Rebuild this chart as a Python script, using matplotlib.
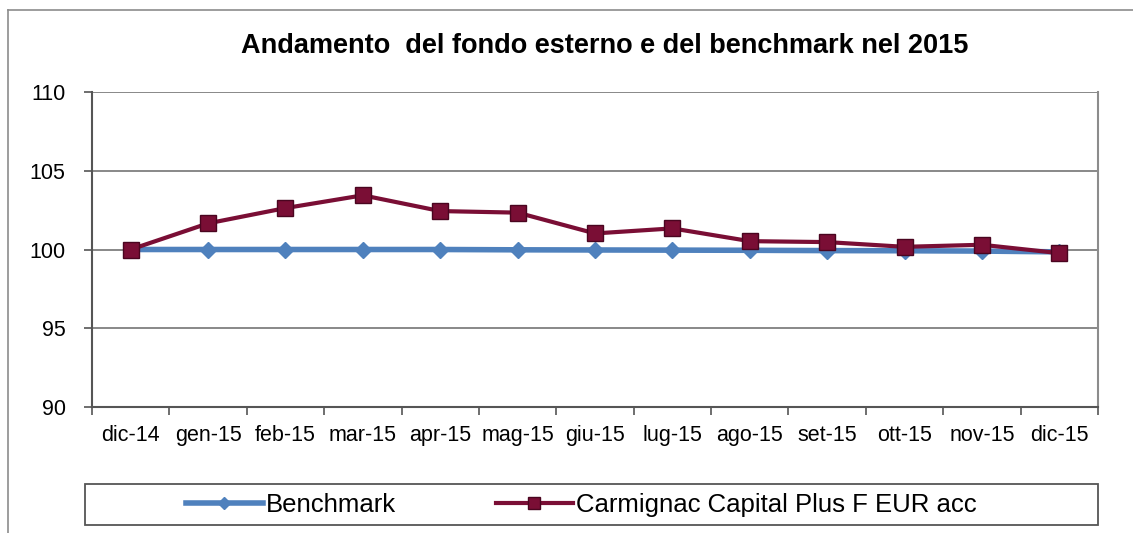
import matplotlib.pyplot as plt
from matplotlib.patches import Rectangle
from matplotlib.lines import Line2D

plt.rcParams['font.family'] = ['Liberation Sans', 'DejaVu Sans']

months = ['dic-14', 'gen-15', 'feb-15', 'mar-15', 'apr-15', 'mag-15', 'giu-15',
          'lug-15', 'ago-15', 'set-15', 'ott-15', 'nov-15', 'dic-15']
benchmark = [100.0, 100.0, 100.0, 100.0, 100.0, 99.98, 99.97, 99.96, 99.95,
             99.93, 99.92, 99.9, 99.85]
carmignac = [100.0, 101.66, 102.63, 103.44, 102.44, 102.34, 101.02, 101.34,
             100.53, 100.47, 100.17, 100.3, 99.77]
title = "Andamento  del fondo esterno e del benchmark nel 2015"

blue = '#4F81BD'
maroon = '#7A0E35'

fig = plt.figure(figsize=(11.33, 5.33), dpi=100)
ax = fig.add_axes([92 / 1133, 1 - 407 / 533, (1098 - 92) / 1133, (407 - 92) / 533])

x = list(range(len(months)))
ax.plot(x, benchmark, color=blue, lw=4, marker='D', ms=8, mfc=blue, mec=blue,
        label='Benchmark', zorder=3)
ax.plot(x, carmignac, color=maroon, lw=3, marker='s', ms=11, mfc=maroon, mec='#4a0520',
        label='Carmignac Capital Plus F EUR acc', zorder=4)

ax.set_xlim(-0.5, len(months) - 0.5)
ax.set_ylim(90, 110)
ax.set_yticks([90, 95, 100, 105, 110])
ax.yaxis.grid(True, color='#7f7f7f', lw=1.3)
ax.set_axisbelow(True)

# category ticks between labels, labels at centres (Excel style)
ax.set_xticks([i - 0.5 for i in range(len(months) + 1)])
ax.set_xticklabels([])
ax.set_xticks(x, minor=True)
ax.set_xticklabels(months, minor=True, fontsize=15.5)
ax.tick_params(axis='x', which='minor', length=0, pad=13)
ax.tick_params(axis='x', which='major', length=6, width=1.2, color='#555555')
ax.tick_params(axis='y', length=6, width=1.2, color='#555555', labelsize=15.5, pad=13)

for side in ['left', 'bottom']:
    ax.spines[side].set_color('#555555')
    ax.spines[side].set_linewidth(1.5)
ax.spines['right'].set_color('#8c8c8c')
ax.spines['right'].set_linewidth(1.5)
ax.spines['top'].set_visible(False)

fig.text(605 / 1133, 1 - 46 / 533, title, ha='center', va='center',
         fontsize=19.5, fontweight='bold')

# outer chart frame (left and top edges visible)
fig.add_artist(Line2D([8 / 1133, 8 / 1133], [0, 1 - 10 / 533], transform=fig.transFigure,
                      color='#8c8c8c', lw=1.2))
fig.add_artist(Line2D([8 / 1133, 1], [1 - 10 / 533, 1 - 10 / 533], transform=fig.transFigure,
                      color='#8c8c8c', lw=1.2))

# legend box
fig.add_artist(Rectangle((85 / 1133, 1 - 525 / 533), (1098 - 85) / 1133, 41 / 533,
                         transform=fig.transFigure, fill=False, ec='#555555', lw=1.3))
handles, labels = ax.get_legend_handles_labels()
fig.legend(handles, labels, loc='center', bbox_to_anchor=(581 / 1133, 1 - 505 / 533),
           ncol=2, frameon=False, fontsize=18.5, handlelength=3, handletextpad=0.1,
           columnspacing=3.9, markerscale=0.8)

fig.savefig('out.png', dpi=100)
